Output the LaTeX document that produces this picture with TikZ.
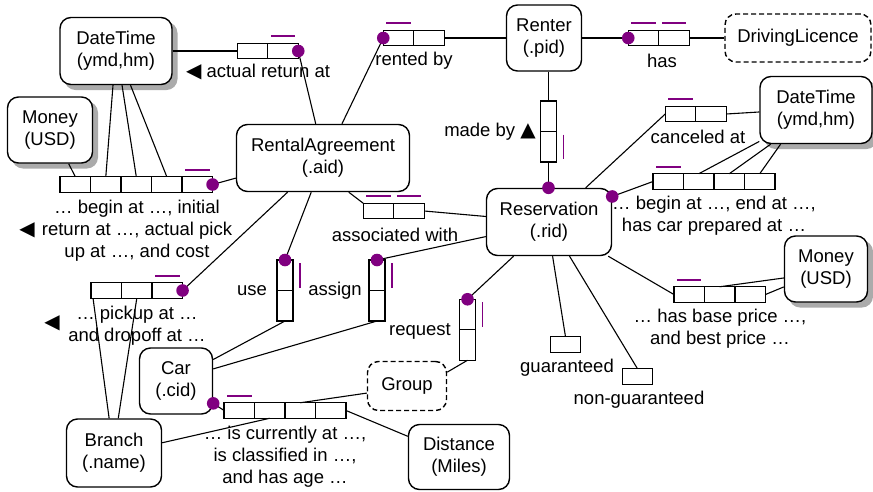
\documentclass[tikz,border=0pt]{standalone}
\usepackage{fontspec}
\setmainfont{Liberation Sans}
\newfontfamily\symfont{DejaVu Sans}
\usetikzlibrary{positioning}

\definecolor{ormpurple}{RGB}{128,0,128}

% little reading-direction triangles
\newcommand{\tri}[1]{{\symfont\fontsize{20}{20}\selectfont #1}}
% uniqueness bar over a role (horizontal) or beside it (vertical)
\newcommand{\uniq}[1]{\draw[ubar] ([shift={(3pt,7pt)}]#1.north west) -- ([shift={(-3pt,7pt)}]#1.north east);}
\newcommand{\vuniq}[1]{\draw[ubar] ([shift={(7pt,-3pt)}]#1.north east) -- ([shift={(7pt,3pt)}]#1.south east);}
% mandatory dot
\newcommand{\mand}[1]{\fill[ormpurple] (#1) circle (6.3pt);}

\tikzset{
  objtype/.style={draw, fill=white, line width=1.4pt, rounded corners=11pt, align=center,
    inner sep=0pt, font=\fontsize{18.5}{22}\selectfont},
  objshadow/.style={fill=black!33, rounded corners=11pt, inner sep=0pt},
  valtype/.style={objtype, dash pattern=on 5pt off 3pt},
  role/.style={draw, fill=white, line width=1.3pt, minimum width=30.5pt, minimum height=15.5pt,
    inner sep=0pt, outer sep=0pt},
  vrole/.style={role, minimum width=16pt, minimum height=30.5pt},
  lbl/.style={align=center, inner sep=0pt, font=\fontsize{18.5}{22}\selectfont},
  link/.style={line width=1.1pt},
  ubar/.style={draw=ormpurple, line width=1.6pt},
}

\begin{document}
\begin{tikzpicture}[x=1pt, y=-1pt]
  \useasboundingbox (0,0) rectangle (873,491);

  % shadows of the shaded object types
  \node[objshadow, minimum width=113pt, minimum height=68pt] (dtAsh) at (121,56) {};
  \node[objshadow, minimum width=86pt, minimum height=67pt] (moneyAsh) at (55,135) {};
  \node[objshadow, minimum width=113pt, minimum height=68pt] (dtBsh) at (821,115) {};
  \node[objshadow, minimum width=84pt, minimum height=67pt] (moneyBsh) at (831,274) {};

  % object types
  \node[objtype, minimum width=112pt, minimum height=67pt] (dtA) at (116,51) {DateTime\\(ymd,hm)};
  \node[objtype, minimum width=85pt, minimum height=66pt] (moneyA) at (50,130) {Money\\(USD)};
  \node[objtype, minimum width=173pt, minimum height=67pt] (agree) at (323,158) {RentalAgreement\\(.aid)};
  \node[objtype, minimum width=75pt, minimum height=66pt] (renter) at (544,38) {Renter\\(.pid)};
  \node[valtype, minimum width=146pt, minimum height=48pt] (licence) at (798,38) {DrivingLicence};
  \node[objtype, minimum width=112pt, minimum height=67pt] (dtB) at (816,110) {DateTime\\(ymd,hm)};
  \node[objtype, minimum width=125pt, minimum height=67pt] (resv) at (549,222) {Reservation\\(.rid)};
  \node[objtype, minimum width=83pt, minimum height=66pt] (moneyB) at (826,269) {Money\\(USD)};
  \node[objtype, minimum width=73pt, minimum height=66pt] (car) at (176,381) {Car\\(.cid)};
  \node[objtype, minimum width=95pt, minimum height=68pt] (branch) at (114,453) {Branch\\(.name)};
  \node[valtype, minimum width=79pt, minimum height=49pt] (group) at (407,386) {Group};
  \node[objtype, minimum width=101pt, minimum height=65pt] (dist) at (459,457) {Distance\\(Miles)};

  % fact types
  \node[role] (ret1) at (252.5,51) {};
  \node[role, right=0pt of ret1] (ret2) {};
  \node[role] (rent1) at (398.5,38) {};
  \node[role, right=0pt of rent1] (rent2) {};
  \node[role] (has1) at (643.5,38) {};
  \node[role, right=0pt of has1] (has2) {};
  \node[vrole] (made1) at (548.5,116.25) {};
  \node[vrole, below=0pt of made1] (made2) {};
  \node[role] (canc1) at (680.5,114) {};
  \node[role, right=0pt of canc1] (canc2) {};
  \node[role] (sched1) at (668.25,181.5) {};
  \foreach \i [count=\j from 2] in {1,2,3}
    \node[role, right=0pt of sched\i] (sched\j) {};
  \node[role] (price1) at (689.2,294.5) {};
  \foreach \i [count=\j from 2] in {1,2}
    \node[role, right=0pt of price\i] (price\j) {};
  \node[role] (assoc1) at (378.5,211) {};
  \node[role, right=0pt of assoc1] (assoc2) {};
  \node[vrole] (use1) at (285,275.25) {};
  \node[vrole, below=0pt of use1] (use2) {};
  \node[vrole] (assign1) at (377,275.25) {};
  \node[vrole, below=0pt of assign1] (assign2) {};
  \node[vrole] (req1) at (467.5,314.5) {};
  \node[vrole, below=0pt of req1] (req2) {};
  \node[role] (rtl1) at (75.3,184.5) {};
  \foreach \i [count=\j from 2] in {1,2,3,4}
    \node[role, right=0pt of rtl\i] (rtl\j) {};
  \node[role] (pick1) at (106.3,290.5) {};
  \foreach \i [count=\j from 2] in {1,2}
    \node[role, right=0pt of pick\i] (pick\j) {};
  \node[role] (cinf1) at (239.3,410.5) {};
  \foreach \i [count=\j from 2] in {1,2,3}
    \node[role, right=0pt of cinf\i] (cinf\j) {};
  \node[role] (guar) at (565.5,344.5) {};
  \node[role] (nguar) at (637.5,376.5) {};

  % connectors
  \draw[link] (dtA.east) -- (ret1.west);
  \draw[link] (ret2.east) -- (agree.102);
  \draw[link] (rent1.west) -- (agree.61);
  \draw[link] (rent2.east) -- (renter.west);
  \draw[link] (renter.east) -- (has1.west);
  \draw[link] (has2.east) -- (licence.west);
  \draw[link] (made1.north |- renter.south) -- (made1.north);
  \draw[link] (made2.south) -- (made2.south |- resv.north);
  \draw[link] (canc1.west) -- (resv.43);
  \draw[link] (canc2.east) -- (dtB.182);
  \draw[link] (resv.22) -- (sched1.west);
  \draw[link] (sched2.north) -- (dtB.209);
  \draw[link] (sched3.north) -- (dtB.217);
  \draw[link] (sched4.north) -- (dtB.224);
  \draw[link] (resv.-30) -- (price1.west);
  \draw[link] (price2.north) -- (moneyB.192);
  \draw[link] (price3.east) -- (moneyB.203);
  \draw[link] (agree.-53) -- (assoc1.north west);
  \draw[link] (assoc2.east) -- (resv.175);
  \draw[link] (agree.251) -- (use1.north);
  \draw[link] (use2.south) -- (car.30);
  \draw[link] (resv.193) -- (assign1.north);
  \draw[link] (assign2.south) -- (car.18);
  \draw[link] (resv.224) -- (req1.north);
  \draw[link] (req2.south) -- (group.19);
  \draw[link] (agree.193) -- (rtl5.east);
  \draw[link] (moneyA.-61) -- (rtl1.north);
  \draw[link] (dtA.265) -- (rtl2.north);
  \draw[link] (dtA.280) -- (rtl3.north);
  \draw[link] (dtA.293) -- (rtl4.north);
  \draw[link] (agree.224) -- (pick3.east);
  \draw[link] ([xshift=2pt]pick1.south west) -- (branch.98);
  \draw[link] (pick2.south) -- (branch.83);
  \draw[link] (car.-31) -- (cinf1.west);
  \draw[link] (cinf2.south) -- (branch.12);
  \draw[link] (cinf3.north) -- (group.190);
  \draw[link] (cinf4.east) -- (dist.158);
  \draw[link] (resv.-84) -- (guar.north);
  \draw[link] (resv.-59) -- (nguar.north);

  % uniqueness constraints
  \uniq{ret2} \uniq{rent1} \uniq{has1} \uniq{has2}
  \vuniq{made2} \uniq{canc1} \uniq{sched1} \uniq{price1}
  \uniq{assoc1} \uniq{assoc2} \vuniq{use1} \vuniq{assign1} \vuniq{req1}
  \uniq{rtl5} \uniq{pick3} \uniq{cinf1}

  % mandatory roles
  \mand{ret2.east} \mand{rent1.west} \mand{has1.west}
  \mand{made2.south |- resv.north} \mand{resv.22}
  \mand{use1.north} \mand{assign1.north} \mand{req1.north}
  \mand{rtl5.east} \mand{pick3.east} \mand{car.-31}

  % readings
  \node[lbl] (retlbl) at (258,72) {\tri{◀}\ actual return at};
  \node[lbl] (rentlbl) at (414,61) {rented by};
  \node[lbl] (haslbl) at (662,61) {has};
  \node[lbl] (madelbl) at (490,132) {made by \tri{▲}};
  \node[lbl] (canclbl) at (698,137) {canceled at};
  \node[lbl] (schedlbl) at (714,216) {… begin at …, end at …,\\has car prepared at …};
  \node[lbl] (pricelbl) at (720,329) {… has base price …,\\and best price …};
  \node[lbl] (assoclbl) at (395,235) {associated with};
  \node[lbl] (uselbl) at (252,291) {use};
  \node[lbl] (assignlbl) at (335,291) {assign};
  \node[lbl] (reqlbl) at (420,331) {request};
  \node[lbl] (rtltri) at (27,230) {\tri{◀}};
  \node[lbl] (rtllbl) at (137,231) {… begin at …, initial\\return at …, actual pick\\up at …, and cost};
  \node[lbl] (picktri) at (52,323) {\tri{◀}};
  \node[lbl] (picklbl) at (137,326) {… pickup at …\\and dropoff at …};
  \node[lbl] (cinflbl) at (285,457) {… is currently at …,\\is classified in …,\\and has age …};
  \node[lbl] (guarlbl) at (567,368) {guaranteed};
  \node[lbl] (nguarlbl) at (639,400) {non-guaranteed};
\end{tikzpicture}
\end{document}
